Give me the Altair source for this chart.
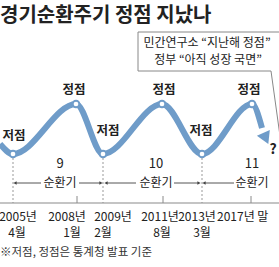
import altair as alt
import pandas as pd

# ---- data ----
wave_x = [0, 13, 76, 103, 162, 202, 252, 262]
wave_level = [0.2, 0.0, 1.0, 0.0, 1.0, 0.0, 1.0, 0.52]

event_names = ["저점", "정점", "저점", "정점", "저점", "정점"]
event_x = [13, 76, 103, 162, 202, 252]
event_level = [0, 1, 0, 1, 0, 1]
event_label_x = [14, 74, 108, 164, 201, 249]
event_label_level = [0.36, 1.28, 0.46, 1.28, 0.46, 1.28]

trough_x = [13, 103, 202]
peak_tick_x = [77, 163, 251]

cycle_numbers = ["9", "10", "11"]
cycle_word = ["순환기", "순환기", "순환기"]
cycle_label_x = [60, 156, 252]
cycle_seg_start = [15, 79, 106, 174, 204]
cycle_seg_end = [41, 101, 136, 199, 234]
arrow_left_x = [15, 106, 204]
arrow_right_x = [101, 199]

year_labels = ["2005년", "2008년", "2009년", "2011년", "2013년"]
year_label_x = [18, 67, 113, 160, 197]
last_label = "2017년 말"
month_labels = ["4월", "1월", "2월", "8월", "3월"]
month_label_x = [17, 72, 103, 162, 202]

end_arrow_x = [265]
end_arrow_level = [0.35]

FONT = "Noto Sans CJK KR"
BLUE = "#6f9cc9"
TXT = "#222222"
GRAY = "#8a8a8a"

xs = alt.Scale(domain=[0, 279], range=[0, 279])
ys = alt.Scale(domain=[0, 1], range=[154, 104])

wave = pd.DataFrame({"x": wave_x, "level": wave_level})
events = pd.DataFrame({"x": event_x, "level": event_level, "name": event_names,
                       "lx": event_label_x, "llevel": event_label_level})
troughs = pd.DataFrame({"x": trough_x})
peaks = pd.DataFrame({"x": peak_tick_x})
cycles = pd.DataFrame({"x": cycle_label_x, "num": cycle_numbers, "word": cycle_word})
segs = pd.DataFrame({"x": cycle_seg_start, "x2": cycle_seg_end})
aleft = pd.DataFrame({"x": arrow_left_x})
aright = pd.DataFrame({"x": arrow_right_x})
years = pd.DataFrame({"x": year_label_x, "t": year_labels})
months = pd.DataFrame({"x": month_label_x, "t": month_labels})
endarrow = pd.DataFrame({"x": end_arrow_x, "level": end_arrow_level})
one = pd.DataFrame({"a": [0]})

X = lambda f="x": alt.X(f"{f}:Q", scale=xs, axis=None)
Y = lambda f="level": alt.Y(f"{f}:Q", scale=ys, axis=None)

layers = []

# title
layers.append(alt.Chart(one).mark_text(text="경기순환주기 정점 지났나", font=FONT, fontSize=20,
                                       fontWeight="bold", align="left", baseline="middle", color=TXT)
              .encode(x=alt.value(0), y=alt.value(16)))

# callout box
box_col = "#888888"
layers.append(alt.Chart(one).mark_rule(color=box_col, strokeWidth=1)
              .encode(x=alt.value(138), x2=alt.value(280), y=alt.value(32)))
layers.append(alt.Chart(one).mark_rule(color=box_col, strokeWidth=1)
              .encode(x=alt.value(138), y=alt.value(32), y2=alt.value(71)))
layers.append(alt.Chart(one).mark_rule(color=box_col, strokeWidth=1)
              .encode(x=alt.value(138), x2=alt.value(271), y=alt.value(71)))
layers.append(alt.Chart(one).mark_rule(color=box_col, strokeWidth=1)
              .encode(x=alt.value(271), y=alt.value(71), x2=alt.value(280), y2=alt.value(136)))
layers.append(alt.Chart(one).mark_text(text="민간연구소 “지난해 정점”", font=FONT, fontSize=12,
                                       color=TXT, align="center", baseline="middle")
              .encode(x=alt.value(207), y=alt.value(43)))
layers.append(alt.Chart(one).mark_text(text="정부 “아직 성장 국면”", font=FONT, fontSize=12,
                                       color=TXT, align="center", baseline="middle")
              .encode(x=alt.value(208), y=alt.value(60)))

# dashed verticals at troughs
layers.append(alt.Chart(troughs).mark_rule(color="#999999", strokeWidth=1, strokeDash=[2, 2])
              .encode(x=X(), y=alt.value(158), y2=alt.value(203)))

# axis line and peak ticks
layers.append(alt.Chart(one).mark_rule(color=GRAY, strokeWidth=1.2)
              .encode(x=alt.value(0), x2=alt.value(279), y=alt.value(203)))
layers.append(alt.Chart(peaks).mark_rule(color=GRAY, strokeWidth=1)
              .encode(x=X(), y=alt.value(196), y2=alt.value(203)))

# wave
layers.append(alt.Chart(wave).mark_line(color=BLUE, strokeWidth=6, interpolate="monotone",
                                        strokeCap="butt")
              .encode(x=X(), y=Y()))
layers.append(alt.Chart(endarrow).mark_point(shape="triangle", filled=True, color=BLUE, opacity=1,
                                             size=200, angle=156)
              .encode(x=X(), y=Y()))
layers.append(alt.Chart(events).mark_point(shape="circle", filled=True, fill="white", stroke=BLUE,
                                           strokeWidth=2, size=45, opacity=1)
              .encode(x=X(), y=Y()))
layers.append(alt.Chart(events).mark_text(font=FONT, fontSize=12.5, fontWeight="bold", color=TXT,
                                          baseline="middle")
              .encode(x=X("lx"), y=Y("llevel"), text="name:N"))
layers.append(alt.Chart(one).mark_text(text="?", font=FONT, fontSize=14, fontWeight="bold",
                                       color=TXT, baseline="middle")
              .encode(x=alt.value(273), y=alt.value(150)))

# cycle labels
layers.append(alt.Chart(cycles).mark_text(font=FONT, fontSize=13, color=TXT, baseline="middle")
              .encode(x=X(), y=alt.value(164), text="num:N"))
layers.append(alt.Chart(cycles).mark_text(font=FONT, fontSize=12, color=TXT, baseline="middle")
              .encode(x=X(), y=alt.value(183), text="word:N"))
layers.append(alt.Chart(segs).mark_rule(color="#555555", strokeWidth=1)
              .encode(x=X(), x2="x2:Q", y=alt.value(183)))
layers.append(alt.Chart(aleft).mark_point(shape="triangle-left", filled=True, color="#444444",
                                          size=14, opacity=1)
              .encode(x=X(), y=alt.value(183)))
layers.append(alt.Chart(aright).mark_point(shape="triangle-right", filled=True, color="#444444",
                                           size=14, opacity=1)
              .encode(x=X(), y=alt.value(183)))

# axis labels
layers.append(alt.Chart(years).mark_text(font=FONT, fontSize=12, color=TXT, baseline="middle")
              .encode(x=X(), y=alt.value(217), text="t:N"))
layers.append(alt.Chart(one).mark_text(text=last_label, font=FONT, fontSize=12, color=TXT,
                                       baseline="middle", align="left")
              .encode(x=alt.value(217), y=alt.value(217)))
layers.append(alt.Chart(months).mark_text(font=FONT, fontSize=12, color=TXT, baseline="middle")
              .encode(x=X(), y=alt.value(233), text="t:N"))

# footnote
layers.append(alt.Chart(one).mark_text(text="※저점, 정점은 통계청 발표 기준", font=FONT, fontSize=11.5,
                                       color="#333333", align="left", baseline="middle")
              .encode(x=alt.value(0), y=alt.value(253)))

chart = alt.layer(*layers).properties(
    width=279, height=267, padding=0, autosize=alt.AutoSizeParams(type="none"),
    background="white"
).configure_view(stroke=None)

chart.save("out.html", embed_options={"renderer": "svg", "actions": False})
